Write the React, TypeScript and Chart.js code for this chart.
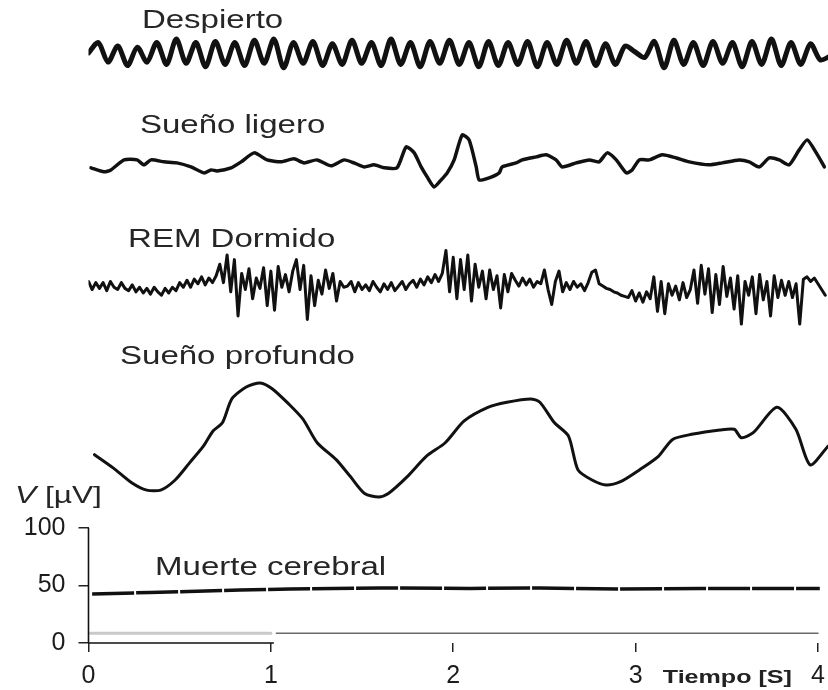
import React, { useEffect, useRef } from "react";
import { Chart, registerables } from "chart.js";

Chart.register(...registerables);

// ---------- axes ----------
const X_TICKS = [0, 1, 2, 3, 4];
const Y_TICKS = [0, 50, 100];
const X_MAX = 4.055; // seconds (right edge of the figure)
const Y_MAX = 559; // µV (top edge of the figure, shared offset scale)

// ---------- trace baselines (µV offsets on the shared scale) ----------
const DESPIERTO_BASE = 513;
const LIGERO_BASE = 417.4;
const REM_BASE = 311.3;
const PROFUNDO_BASE = 176.5;

// ---------- Despierto (alpha waves), sampled every half period ----------
const DESPIERTO_DT = 0.0535;
const despiertoValues = [
  0, 9, -8, 6, -11, 5, -8, 9, -10, 12, -9, 9, -12, 10, -10, 9, -11, 11, -9, 12,
  -13, 9, -9, 10, -11, 8, -10, 11, -9, 9, -11, 12, -10, 9, -12, 10, -9, 11, -10, 9,
  -12, 10, -11, 9, -10, 10, -12, 9, -10, 11, -9, 10, -11, 8, -10, 6, 1, -4, 10, -13,
  11, -10, 9, -11, 10, -9, 9, -12, 10, -10, 12, -11, 9, -10, 8, -6, -3,
];

// ---------- Sueño ligero: [t (s), µV] ----------
const ligeroPts: [number, number][] = [
  [0.014, -4.3], [0.085, -7.8], [0.123, -6.1], [0.195, 2.6], [0.266, 2.6], [0.304, -1.7],
  [0.343, 2.6], [0.414, 0.9], [0.485, 0], [0.562, -3.5], [0.634, -8.7], [0.672, -6.1],
  [0.705, -7.0], [0.782, -4.3], [0.837, 0.9], [0.908, 8.7], [0.979, 2.6], [1.056, 0.9],
  [1.127, 3.5], [1.182, 0], [1.253, 2.6], [1.33, -2.6], [1.402, 2.6], [1.456, 0],
  [1.511, -3.5], [1.566, -1.7], [1.621, -4.3], [1.692, -4.3], [1.742, 13.9], [1.786, 8.7],
  [1.824, -3.5], [1.857, -12.2], [1.895, -20.9], [1.934, -14.8], [1.967, -8.7], [2.005, 2.6],
  [2.049, 24.3], [2.087, 20.0], [2.126, -3.5], [2.142, -14.8], [2.197, -13.0], [2.252, -8.7],
  [2.268, -3.5], [2.345, 0], [2.378, 2.6], [2.455, 5.2], [2.51, 7.0], [2.564, 2.6],
  [2.597, -3.5], [2.674, 0], [2.746, 2.6], [2.8, 0.9], [2.844, 8.7], [2.894, 2.6],
  [2.949, -8.7], [2.981, -6.1], [3.02, 2.6], [3.075, 2.6], [3.146, 7.0], [3.223, 4.3],
  [3.294, 0.9], [3.404, -1.7], [3.475, 0], [3.568, 2.6], [3.623, 0.9], [3.678, -3.5],
  [3.733, 4.3], [3.788, 2.6], [3.842, -1.7], [3.897, 11.3], [3.941, 20.0], [3.991, 8.7],
  [4.035, -3.5],
];

// ---------- REM Dormido, sampled every 0.02 s ----------
const REM_DT = 0.02;
const remValues = [
  3, -4, 2, -3, 2, -5, 3, -2, -4, 2, -3,
  -5, 0, -6, -2, -7, -3, -8, -2, -6, -9, -3, -7, -2, -5, 2,
  -2, 4, -2, 5, 1, 7, 0, 6, 2, 8,
  18, 2, 26, -6, 22, -27, 10,
  -4, 14, -12, 6, -3, 15, -18,
  12, -22, 16,
  -2, 9, -6, 12,
  22, -4, 17, -30, 8, -18,
  4, -8, 13, -3, 10, -14, 3, -2,
  -1, 3, -6, 2, -4, 0, -5, 3, -2, -6, 1, -4, 2, -5, -1, 3, -4, 1, 4, -2,
  5, 0, 7, 2, 9, 3, 10,
  30, -6, 24,
  -12, 22, -4, 26, -14, 18, -2, 12,
  -12, 13, -4, 8, -20, 9, -6, 10,
  4, -1, 6, 0, 5, -2, 3, 1, 13, -4,
  -17, 3, 12, -6,
  2, -4, 3, -2, 1, -5, 2, 11,
  13, 1,
  -1, -3, -4, -6, -7, -9, -10, -11,
  -5,
  -14, -7, -15, -6, -12,
  7, -23, 3, -25, 1, -9,
  -1, -13, 2, -11, -4,
  13, -16, 17, -8, 14, -24, 9, -17, 16, -10, 6, -21, 8,
  -34, 3, -9,
  7, -25, 9, -13, 3, -27, 8, -11, 4,
  -9, 3, -11, 1,
  -34,
  5, 7, 3, 6, 1, -4, -9,
];

// ---------- Sueño profundo: [t (s), µV] ----------
const profundoPts: [number, number][] = [
  [0.033, -12.8], [0.137, -24.5], [0.241, -37.7], [0.319, -43.6], [0.396, -43.6], [0.475, -34.8],
  [0.553, -20.1], [0.63, -5.4], [0.683, 7.8], [0.735, 15.2], [0.786, 35.7], [0.865, 46.0],
  [0.942, 49.6], [1.007, 44.6], [1.098, 31.3], [1.176, 18.1], [1.254, -2.4], [1.358, -17.1],
  [1.436, -31.8], [1.514, -46.5], [1.592, -49.5], [1.644, -46.5], [1.748, -31.8], [1.852, -14.2],
  [1.956, -2.4], [2.06, 16.6], [2.19, 28.4], [2.294, 32.8], [2.424, 35.7], [2.475, 32.8],
  [2.554, 15.2], [2.632, 3.4], [2.684, -26.0], [2.761, -34.8], [2.839, -39.2], [2.917, -36.3],
  [3.021, -26.0], [3.125, -14.2], [3.203, 0.5], [3.307, 4.9], [3.463, 8.7], [3.541, 9.3],
  [3.58, 1.9], [3.645, 6.3], [3.775, 28.4], [3.879, 9.3], [3.957, -21.6], [4.055, -5.4],
];

// ---------- Muerte cerebral: [t (s), µV] ----------
const muertePts: [number, number][] = [
  [0.02, 42.6], [0.337, 43.9], [0.831, 46.1], [1.105, 47.0], [1.598, 47.8], [2.092, 47.4],
  [2.475, 47.8], [2.914, 47.0], [3.353, 47.4], [4.01, 47.4],
];

// ---------- grey reference line near 0 µV ----------
const greyLeftPts: [number, number][] = [[0.01, 8.4], [1.0, 8.4]];
const greyRightPts: [number, number][] = [[1.03, 8.4], [4.0, 8.4]];

// ---------- text labels (anchored in data units: s, µV) ----------
const TEXT_LABELS = [
  { text: "Despierto", t: 0.293, v: 534.8 },
  { text: "Sueño ligero", t: 0.282, v: 443.5 },
  { text: "REM Dormido", t: 0.217, v: 344.3 },
  { text: "Sueño profundo", t: 0.173, v: 242.6 },
  { text: "Muerte cerebral", t: 0.365, v: 59.1 },
];
const AXIS_TITLE_Y = { t: -0.403, v: 121.7 };
const AXIS_TITLE_X = { text: "Tiempo [S]", t: 3.149, v: -34.8 };

const FONT = "'Liberation Sans', Arial, Helvetica, sans-serif";
const TEXT_STRETCH = 1.32;
const INK = "#111";
const TEXT_INK = "#262626";

const toXY = (pts: [number, number][], base: number) => pts.map(([t, v]) => ({ x: t, y: base + v }));
const sampled = (vals: number[], dt: number, base: number) => vals.map((v, i) => ({ x: i * dt, y: base + v }));

function drawStretched(ctx: CanvasRenderingContext2D, text: string, x: number, y: number, font: string) {
  ctx.save();
  ctx.translate(x, y);
  ctx.scale(TEXT_STRETCH, 1);
  ctx.font = font;
  ctx.fillText(text, 0, 0);
  const w = ctx.measureText(text).width * TEXT_STRETCH;
  ctx.restore();
  return w;
}

const decorPlugin = {
  id: "eegDecor",
  afterDraw(chart: any) {
    const { ctx, scales } = chart;
    const xs = scales.x;
    const ys = scales.y;
    ctx.save();
    // partial axis lines
    ctx.strokeStyle = INK;
    ctx.lineWidth = 1.6;
    ctx.beginPath();
    const x0 = xs.getPixelForValue(0);
    const yTop = ys.getPixelForValue(Y_TICKS[Y_TICKS.length - 1]);
    const yZero = ys.getPixelForValue(0);
    ctx.moveTo(x0, yTop);
    ctx.lineTo(x0, yZero);
    ctx.moveTo(x0, yZero);
    ctx.lineTo(xs.getPixelForValue(1) + 3, yZero);
    ctx.stroke();

    // labels
    ctx.fillStyle = TEXT_INK;
    ctx.textBaseline = "alphabetic";
    ctx.textAlign = "left";
    for (const l of TEXT_LABELS) {
      drawStretched(ctx, l.text, xs.getPixelForValue(l.t), ys.getPixelForValue(l.v), `25px ${FONT}`);
    }
    // y axis title: italic V [µV]
    const px = xs.getPixelForValue(AXIS_TITLE_Y.t);
    const py = ys.getPixelForValue(AXIS_TITLE_Y.v);
    const wV = drawStretched(ctx, "V", px, py, `italic 24px ${FONT}`);
    drawStretched(ctx, " [µV]", px + wV, py, `24px ${FONT}`);
    // x axis title
    ctx.fillStyle = "#222";
    drawStretched(
      ctx,
      AXIS_TITLE_X.text,
      xs.getPixelForValue(AXIS_TITLE_X.t),
      ys.getPixelForValue(AXIS_TITLE_X.v),
      `bold 19px ${FONT}`
    );
    ctx.restore();
  },
};

export default function App() {
  const ref = useRef<HTMLCanvasElement | null>(null);

  useEffect(() => {
    const canvas = ref.current;
    if (!canvas) return;
    const line = (data: any[], width: number, tension: number, color = INK, extra: any = {}) => ({
      data,
      borderColor: color,
      borderWidth: width,
      tension,
      pointRadius: 0,
      fill: false,
      borderJoinStyle: "round",
      borderCapStyle: "round",
      ...extra,
    });
    const chart = new Chart(canvas, {
      type: "line",
      data: {
        datasets: [
          line(toXY(greyLeftPts, 0), 3, 0, "#c9c9c9"),
          line(toXY(greyRightPts, 0), 1.5, 0, "#6a6a6a"),
          line(sampled(despiertoValues, DESPIERTO_DT, DESPIERTO_BASE), 5, 0.28),
          line(toXY(ligeroPts, LIGERO_BASE), 3.5, 0.2),
          line(sampled(remValues, REM_DT, REM_BASE), 3, 0),
          line(toXY(profundoPts, PROFUNDO_BASE), 3, 0.25),
          line(toXY(muertePts, 0), 3.5, 0, INK, { borderDash: [42, 2], borderCapStyle: "butt" }),
        ] as any,
      },
      options: {
        responsive: false,
        maintainAspectRatio: false,
        devicePixelRatio: 1,
        animation: false,
        layout: { padding: 0 },
        plugins: { legend: { display: false }, tooltip: { enabled: false } },
        scales: {
          x: {
            type: "linear",
            position: "bottom",
            min: 0,
            max: X_MAX,
            border: { display: false },
            grid: { drawOnChartArea: false, drawTicks: true, tickLength: 9, color: "#222", lineWidth: 1.5 },
            ticks: { font: { family: FONT, size: 25 }, color: "#1c1c1c", padding: 9, maxRotation: 0, autoSkip: false },
            afterBuildTicks: (s: any) => {
              s.ticks = X_TICKS.map((v) => ({ value: v }));
            },
            afterFit: (s: any) => {
              s.height = 47;
              s.paddingLeft = 0;
              s.paddingRight = 0;
            },
          },
          y: {
            type: "linear",
            position: "left",
            min: 0,
            max: Y_MAX,
            border: { display: false },
            grid: { drawOnChartArea: false, drawTicks: true, tickLength: 10, color: "#222", lineWidth: 1.5 },
            ticks: { font: { family: FONT, size: 25 }, color: "#1c1c1c", padding: 13, autoSkip: false },
            afterBuildTicks: (s: any) => {
              s.ticks = Y_TICKS.map((v) => ({ value: v }));
            },
            afterFit: (s: any) => {
              s.width = 88.5;
              s.paddingTop = 0;
              s.paddingBottom = 0;
            },
          },
        },
      } as any,
      plugins: [decorPlugin],
    });
    return () => chart.destroy();
  }, []);

  return (
    <div style={{ position: "fixed", left: 0, top: 0, width: 828, height: 690, background: "#fff" }}>
      <canvas ref={ref} width={828} height={690} style={{ display: "block", width: 828, height: 690 }} />
    </div>
  );
}
